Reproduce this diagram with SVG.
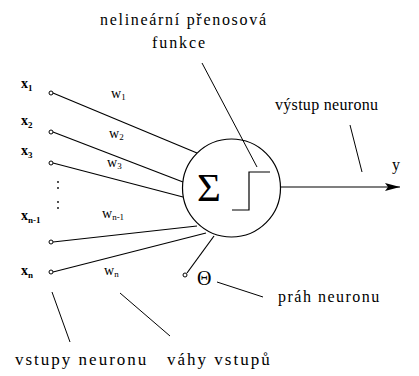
<svg xmlns="http://www.w3.org/2000/svg" width="419" height="376" viewBox="0 0 419 376">
<defs>
<style>
.v{font-family:"Liberation Serif",serif;font-weight:bold;font-size:14px;fill:#000}
.w{font-family:"Liberation Serif",serif;font-size:14px;fill:#000}
.s{font-size:9px}
.L{font-family:"Liberation Serif",serif;font-size:16px;fill:#000}
.B{font-family:"Liberation Serif",serif;font-size:17px;letter-spacing:2px;fill:#000}
.ln{stroke:#000;stroke-width:1.2;fill:none}
.th{stroke:#000;stroke-width:1;fill:none}
.pt{stroke:#000;stroke-width:1;fill:#fff}
</style>
<marker id="ah" markerWidth="16" markerHeight="10" refX="15" refY="5" orient="auto" markerUnits="userSpaceOnUse">
<path d="M0,1 L15,5 L0,9 L3,5 Z" fill="#000"/>
</marker>
</defs>
<rect width="419" height="376" fill="#fff"/>
<g id="connectors">
<line class="ln" x1="53" y1="93" x2="197" y2="153"/>
<line class="ln" x1="53" y1="132" x2="183" y2="182"/>
<line class="ln" x1="53" y1="163" x2="183" y2="197"/>
<line class="ln" x1="53" y1="242" x2="197" y2="226"/>
<line class="ln" x1="53" y1="272" x2="206" y2="233"/>
<line class="ln" x1="187" y1="273" x2="214" y2="236"/>
<line class="ln" x1="281" y1="187" x2="400" y2="187" marker-end="url(#ah)"/>
<line class="th" x1="202" y1="63" x2="257" y2="167"/>
<line class="th" x1="350" y1="125" x2="362" y2="172"/>
<line class="th" x1="217" y1="282" x2="263" y2="297"/>
<line class="th" x1="52" y1="292" x2="70" y2="342"/>
<line class="th" x1="120" y1="293" x2="170" y2="336"/>
</g>
<g id="inputs">
<circle class="pt" cx="51" cy="93" r="2"/>
<circle class="pt" cx="51" cy="132" r="2"/>
<circle class="pt" cx="51" cy="163" r="2"/>
<circle class="pt" cx="51" cy="242" r="2"/>
<circle class="pt" cx="51" cy="272" r="2"/>
<circle class="pt" cx="185" cy="275" r="2"/>
<g fill="#000">
<circle cx="58" cy="182" r="0.9"/><circle cx="58" cy="188" r="0.9"/>
<circle cx="58" cy="202" r="0.9"/><circle cx="58" cy="208" r="0.9"/>
</g>
<text class="v" x="21" y="88">x<tspan class="s" dy="3">1</tspan></text>
<text class="v" x="21" y="125">x<tspan class="s" dy="3">2</tspan></text>
<text class="v" x="21" y="155">x<tspan class="s" dy="3">3</tspan></text>
<text class="v" x="21" y="220">x<tspan class="s" dy="3">n-1</tspan></text>
<text class="v" x="21" y="275">x<tspan class="s" dy="3">n</tspan></text>
<text class="w" x="111" y="98">w<tspan class="s" dy="2">1</tspan></text>
<text class="w" x="109" y="138">w<tspan class="s" dy="2">2</tspan></text>
<text class="w" x="107" y="167">w<tspan class="s" dy="2">3</tspan></text>
<text class="w" x="102" y="218">w<tspan class="s" dy="2">n-1</tspan></text>
<text class="w" x="104" y="275">w<tspan class="s" dy="2">n</tspan></text>
</g>
<g id="neuron">
<circle class="ln" cx="231.5" cy="188" r="49"/>
<text x="197" y="201" style="font-family:'Liberation Serif',serif;font-size:41px">Σ</text>
<polyline class="ln" points="232,210 249,210 249,172 270,172"/>
</g>
<g id="threshold">
<text x="197" y="285" style="font-family:'Liberation Serif',serif;font-size:20px">Θ</text>
</g>
<g id="labels">
<text class="L" x="100" y="25" letter-spacing="1.7">nelineární přenosová</text>
<text class="L" x="152" y="48" letter-spacing="1.9">funkce</text>
<text class="L" x="275" y="110" font-size="15" letter-spacing="0.3">výstup neuronu</text>
<text class="L" x="392" y="170">y</text>
<text class="L" x="278" y="302" letter-spacing="1.5">práh neuronu</text>
<text class="B" x="15" y="365">vstupy neuronu</text>
<text class="B" x="167" y="365">váhy vstupů</text>
</g>
</svg>
